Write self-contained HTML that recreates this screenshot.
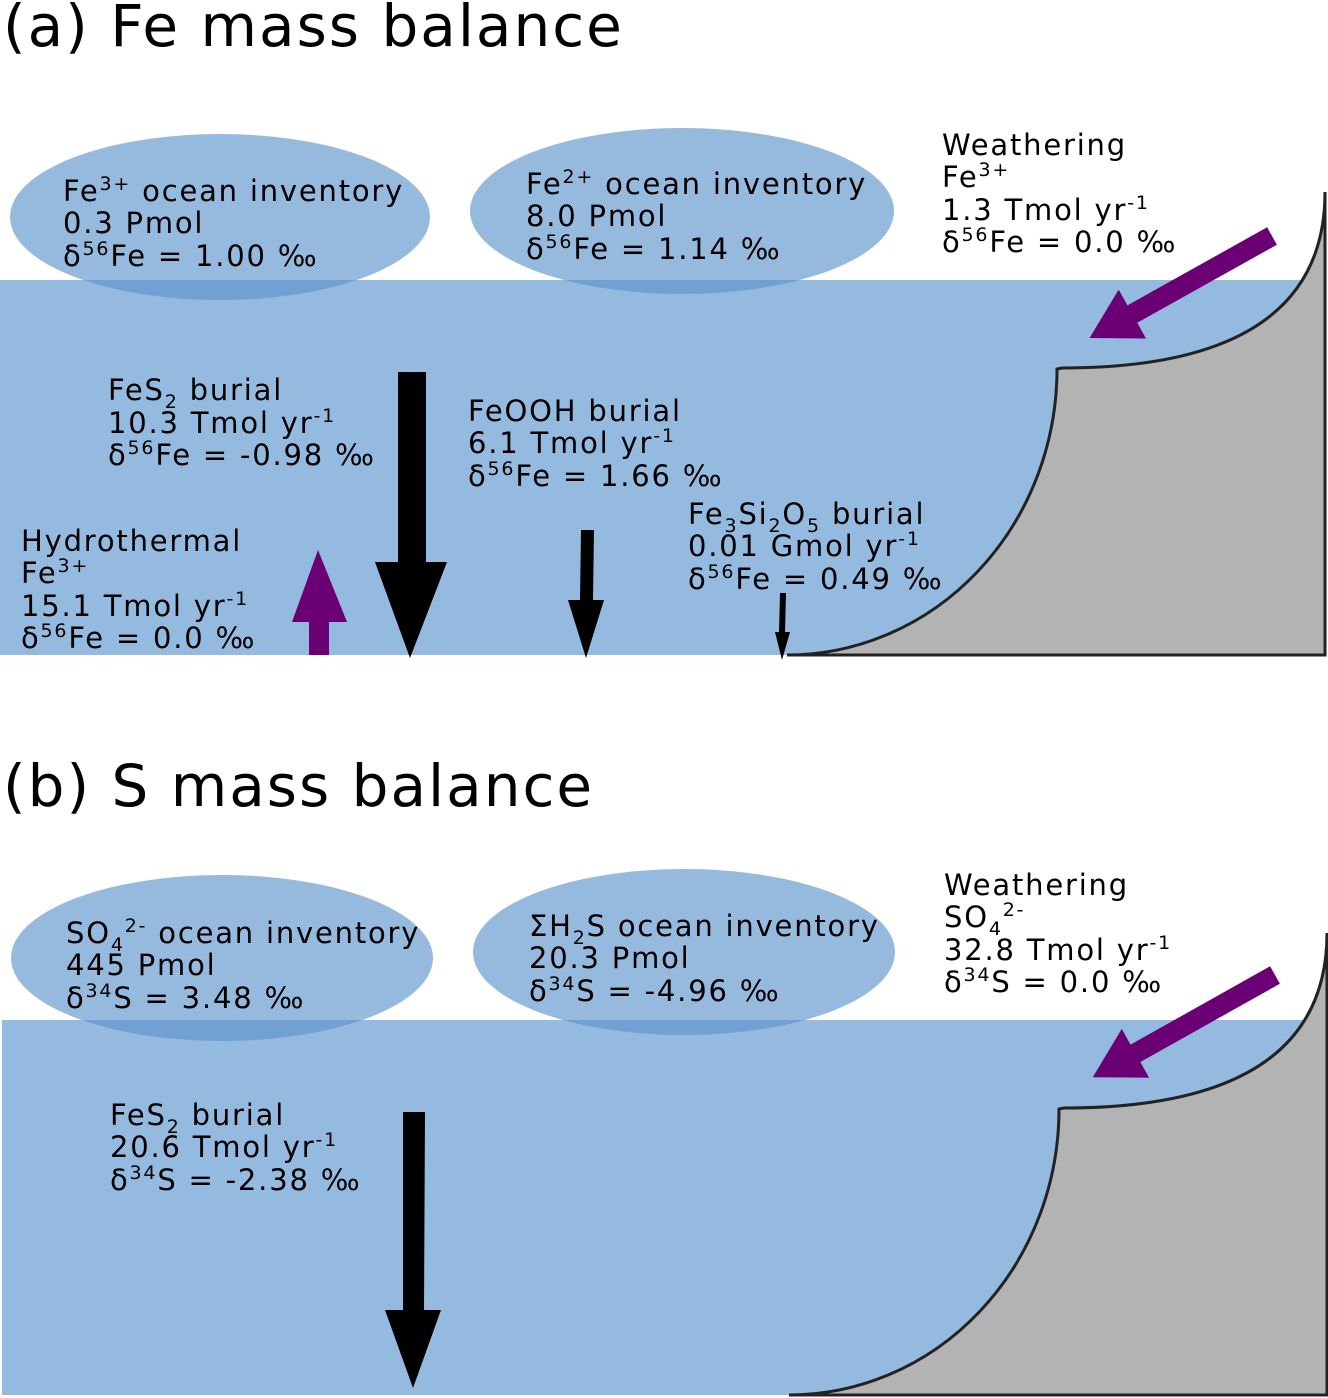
<!DOCTYPE html>
<html><head><meta charset="utf-8">
<style>
html,body{margin:0;padding:0;background:#fff;}
svg{display:block;}
text{font-family:"DejaVu Sans","Liberation Sans",sans-serif;fill:#000;}
.t{font-size:29px;letter-spacing:1.8px;}
.h{font-size:58px;letter-spacing:2px;}
</style></head>
<body>
<svg width="1328" height="1398" viewBox="0 0 1328 1398" xmlns="http://www.w3.org/2000/svg">

<!-- Panel a -->
<text class="h" x="3" y="46">(a) Fe mass balance</text>
<rect x="0" y="280" width="1325" height="375" fill="#95badf"/>
<path d="M787,655 A270,286 0 0 0 1057,369 L1062,368 Q1325,368 1325,192 L1325,655 Z" fill="#b3b3b3"/>
<path d="M787,655 A270,286 0 0 0 1057,369 L1062,368 Q1325,368 1325,192 L1325,655 L787,655" fill="none" stroke="#222" stroke-width="3"/>
<ellipse cx="220" cy="217" rx="210" ry="83" fill="#5d94cc" fill-opacity="0.65"/>
<ellipse cx="682" cy="211" rx="212" ry="83" fill="#5d94cc" fill-opacity="0.65"/>

<text class="t" x="63" y="201">Fe<tspan dy="-11" font-size="19">3+</tspan><tspan dy="11"> ocean inventory</tspan></text>
<text class="t" x="63" y="233">0.3 Pmol</text>
<text class="t" x="63" y="266">δ<tspan dy="-11" font-size="19">56</tspan><tspan dy="11">Fe = 1.00 ‰</tspan></text>

<text class="t" x="526" y="194">Fe<tspan dy="-11" font-size="19">2+</tspan><tspan dy="11"> ocean inventory</tspan></text>
<text class="t" x="526" y="226">8.0 Pmol</text>
<text class="t" x="526" y="259">δ<tspan dy="-11" font-size="19">56</tspan><tspan dy="11">Fe = 1.14 ‰</tspan></text>

<text class="t" x="942" y="155">Weathering</text>
<text class="t" x="942" y="187">Fe<tspan dy="-11" font-size="19">3+</tspan></text>
<text class="t" x="942" y="220">1.3 Tmol yr<tspan dy="-11" font-size="19">-1</tspan></text>
<text class="t" x="942" y="252">δ<tspan dy="-11" font-size="19">56</tspan><tspan dy="11">Fe = 0.0 ‰</tspan></text>

<text class="t" x="108" y="400">FeS<tspan dy="8" font-size="19">2</tspan><tspan dy="-8"> burial</tspan></text>
<text class="t" x="108" y="433">10.3 Tmol yr<tspan dy="-11" font-size="19">-1</tspan></text>
<text class="t" x="108" y="465">δ<tspan dy="-11" font-size="19">56</tspan><tspan dy="11">Fe = -0.98 ‰</tspan></text>

<text class="t" x="468" y="421">FeOOH burial</text>
<text class="t" x="468" y="453">6.1 Tmol yr<tspan dy="-11" font-size="19">-1</tspan></text>
<text class="t" x="468" y="486">δ<tspan dy="-11" font-size="19">56</tspan><tspan dy="11">Fe = 1.66 ‰</tspan></text>

<text class="t" x="688" y="524">Fe<tspan dy="8" font-size="19">3</tspan><tspan dy="-8">Si</tspan><tspan dy="8" font-size="19">2</tspan><tspan dy="-8">O</tspan><tspan dy="8" font-size="19">5</tspan><tspan dy="-8"> burial</tspan></text>
<text class="t" x="688" y="556">0.01 Gmol yr<tspan dy="-11" font-size="19">-1</tspan></text>
<text class="t" x="688" y="589">δ<tspan dy="-11" font-size="19">56</tspan><tspan dy="11">Fe = 0.49 ‰</tspan></text>

<text class="t" x="21" y="551">Hydrothermal</text>
<text class="t" x="21" y="583">Fe<tspan dy="-11" font-size="19">3+</tspan></text>
<text class="t" x="21" y="616">15.1 Tmol yr<tspan dy="-11" font-size="19">-1</tspan></text>
<text class="t" x="21" y="648">δ<tspan dy="-11" font-size="19">56</tspan><tspan dy="11">Fe = 0.0 ‰</tspan></text>

<!-- arrows a -->
<polygon points="398,372 426,372 426,562 447,562 410,658 375,562 398,562" fill="#000"/>
<polygon points="581,530 594,530 593,600 604,600 586,658 568,600 580,600" fill="#000"/>
<polygon points="780,593 786,593 785,632 790,632 782,660 775,632 779,632" fill="#000"/>
<polygon points="309,655 329,655 329,622 347,622 318,550 292,622 309,622" fill="#6b0075"/>
<g transform="translate(1272,236) rotate(150.8)">
<polygon points="0,-10 160,-10 160,-28 209,0 160,28 160,10 0,10" fill="#6b0075"/>
</g>

<!-- Panel b -->
<text class="h" x="3" y="806">(b) S mass balance</text>
<rect x="2" y="1020" width="1325" height="375" fill="#95badf"/>
<path d="M789,1395 A270,286 0 0 0 1059,1109 L1064,1108 Q1327,1108 1327,933 L1327,1395 Z" fill="#b3b3b3"/>
<path d="M789,1395 A270,286 0 0 0 1059,1109 L1064,1108 Q1327,1108 1327,933 L1327,1395 L789,1395" fill="none" stroke="#222" stroke-width="3"/>
<ellipse cx="222" cy="958" rx="211" ry="83" fill="#5d94cc" fill-opacity="0.65"/>
<ellipse cx="684" cy="952" rx="211" ry="83" fill="#5d94cc" fill-opacity="0.65"/>

<text class="t" x="66" y="943">SO<tspan dy="8" font-size="19">4</tspan><tspan dy="-19" font-size="19">2-</tspan><tspan dy="11"> ocean inventory</tspan></text>
<text class="t" x="66" y="975">445 Pmol</text>
<text class="t" x="66" y="1008">δ<tspan dy="-11" font-size="19">34</tspan><tspan dy="11">S = 3.48 ‰</tspan></text>

<text class="t" x="529" y="936">ΣH<tspan dy="8" font-size="19">2</tspan><tspan dy="-8">S ocean inventory</tspan></text>
<text class="t" x="529" y="968">20.3 Pmol</text>
<text class="t" x="529" y="1001">δ<tspan dy="-11" font-size="19">34</tspan><tspan dy="11">S = -4.96 ‰</tspan></text>

<text class="t" x="944" y="895">Weathering</text>
<text class="t" x="944" y="927">SO<tspan dy="8" font-size="19">4</tspan><tspan dy="-19" font-size="19">2-</tspan></text>
<text class="t" x="944" y="960">32.8 Tmol yr<tspan dy="-11" font-size="19">-1</tspan></text>
<text class="t" x="944" y="992">δ<tspan dy="-11" font-size="19">34</tspan><tspan dy="11">S = 0.0 ‰</tspan></text>

<text class="t" x="110" y="1125">FeS<tspan dy="8" font-size="19">2</tspan><tspan dy="-8"> burial</tspan></text>
<text class="t" x="110" y="1157">20.6 Tmol yr<tspan dy="-11" font-size="19">-1</tspan></text>
<text class="t" x="110" y="1190">δ<tspan dy="-11" font-size="19">34</tspan><tspan dy="11">S = -2.38 ‰</tspan></text>

<polygon points="403,1112 425,1112 424,1310 441,1310 413,1388 385,1310 403,1310" fill="#000"/>
<g transform="translate(1275,975) rotate(150.7)">
<polygon points="0,-10 160,-10 160,-28 209,0 160,28 160,10 0,10" fill="#6b0075"/>
</g>
</svg>
</body></html>
